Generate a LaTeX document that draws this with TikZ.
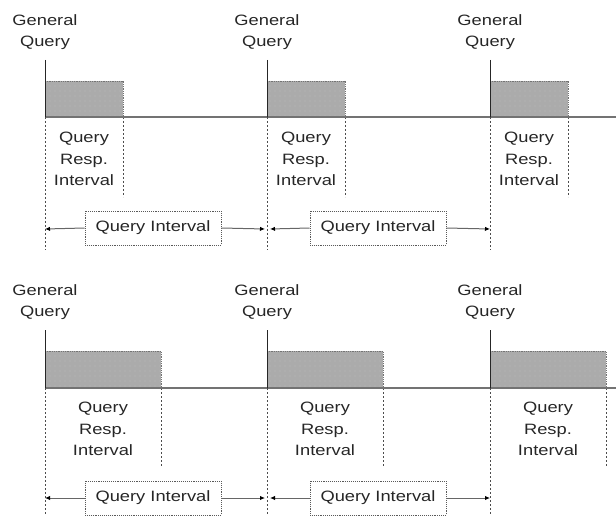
\documentclass[tikz,border=0pt]{standalone}
\usepackage{fontspec}
\setmainfont{Liberation Sans}[FakeStretch=1.22]
\usetikzlibrary{arrows.meta,patterns.meta}
\begin{document}
\begin{tikzpicture}[x=1pt,y=-1pt,
  lbl/.style={font=\fontsize{15}{21.5}\selectfont, align=center, inner sep=0pt, text=black!85},
  bar/.style={fill=black!33},
  bardots/.style={pattern={Dots[distance=5pt,radius=0.45pt]}, pattern color=black!18},
  baredge/.style={draw=black!55, densely dotted, line width=0.8pt},
  base/.style={draw=black!55, line width=1.5pt},
  qline/.style={draw=black!85, line width=0.9pt},
  guide/.style={draw=black!70, dash pattern=on 1.6pt off 2.4pt, line width=0.9pt},
  qbox/.style={draw=black!65, densely dotted, line width=0.9pt, minimum width=136pt, minimum height=34pt, inner sep=0pt, fill=white, font=\fontsize{15}{18}\selectfont, text=black!85},
  arr/.style={draw=black!60, line width=1pt, -{Latex[length=5pt,width=4.5pt,fill=black,color=black]}}]
\useasboundingbox (0,0) rectangle (616,516);

% ---------------- top row ----------------
\foreach \i/\x in {1/45,2/267,3/490}{
  \fill[bar] (\x,81) rectangle (\x+78,117);
  \fill[bardots] (\x,81) rectangle (\x+78,117);
  \draw[baredge] (\x,81) -- (\x+78,81) -- (\x+78,117);
  \draw[guide] (\x+78,117) -- (\x+78,197);
  \node[lbl] (tg\i) at (\x,32) {General\\Query};
  \node[lbl] (tr\i) at (\x+39,159) {Query\\Resp.\\Interval};
}
\draw[base] (45,117) -- (616,117);
\foreach \i/\x in {1/45,2/267,3/490}{
  \draw[qline] (\x,60) -- (\x,117);
  \draw[guide] (\x,117) -- (\x,250);
}
\coordinate (ta1) at (45,229);
\coordinate (ta2l) at (265,229);
\coordinate (ta2r) at (270,229);
\coordinate (ta3) at (490,229);
\node[qbox] (tbox1) at (153,228) {Query Interval};
\node[qbox] (tbox2) at (378,228) {Query Interval};
\draw[arr] (tbox1.west) -- (ta1);
\draw[arr] (tbox1.east) -- (ta2l);
\draw[arr] (tbox2.west) -- (ta2r);
\draw[arr] (tbox2.east) -- (ta3);

% ---------------- bottom row ----------------
\foreach \i/\x in {1/45,2/267,3/490}{
  \fill[bar] (\x,351) rectangle (\x+116,388);
  \fill[bardots] (\x,351) rectangle (\x+116,388);
  \draw[baredge] (\x,351) -- (\x+116,351) -- (\x+116,388);
  \draw[guide] (\x+116,388) -- (\x+116,467);
  \node[lbl] (bg\i) at (\x,302) {General\\Query};
  \node[lbl] (br\i) at (\x+58,429) {Query\\Resp.\\Interval};
}
\draw[base] (45,388) -- (616,388);
\foreach \i/\x in {1/45,2/267,3/490}{
  \draw[qline] (\x,330) -- (\x,388);
  \draw[guide] (\x,388) -- (\x,516);
}
\coordinate (ba1) at (45,498);
\coordinate (ba2l) at (265,498);
\coordinate (ba2r) at (270,498);
\coordinate (ba3) at (490,498);
\node[qbox] (bbox1) at (153,498) {Query Interval};
\node[qbox] (bbox2) at (378,498) {Query Interval};
\draw[arr] (bbox1.west) -- (ba1);
\draw[arr] (bbox1.east) -- (ba2l);
\draw[arr] (bbox2.west) -- (ba2r);
\draw[arr] (bbox2.east) -- (ba3);
\end{tikzpicture}
\end{document}
